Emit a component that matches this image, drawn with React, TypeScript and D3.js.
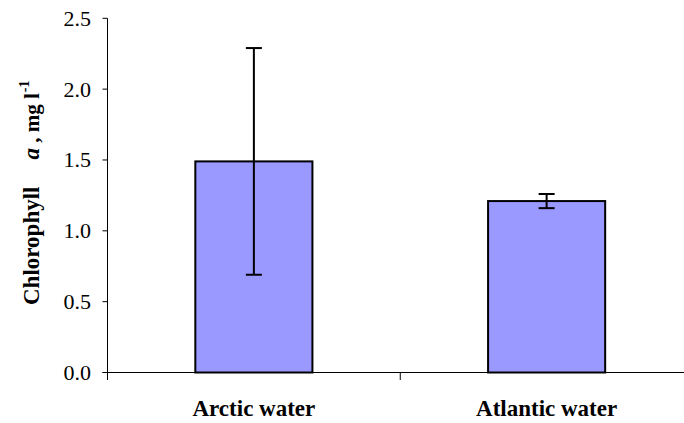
import React from "react";
import * as d3 from "d3";

// Mean chlorophyll a concentration by water mass, with error bars
const categories = ["Arctic water", "Atlantic water"];
const means = [1.49, 1.21];
const errors = [0.8, 0.05];
const yTicks = [0, 0.5, 1.0, 1.5, 2.0, 2.5];

const W = 684;
const H = 423;
const FONT = "Liberation Serif";

export default function App() {
  const axisX = 107.5;
  const y = d3.scaleLinear().domain([0, 2.5]).range([372.5, 18.3]);
  const x = d3
    .scaleBand<string>()
    .domain(categories)
    .range([axisX, 693])
    .paddingInner(0.6)
    .paddingOuter(0.3);
  const step = x.step();
  const bw = x.bandwidth();
  const cap = 8;
  const y0 = y(0);

  return (
    <svg
      width={W}
      height={H}
      style={{ position: "absolute", left: 0, top: 0, background: "#fff" }}
    >
      {/* bars */}
      {categories.map((c, i) => (
        <rect
          key={c}
          x={x(c)!}
          y={y(means[i])}
          width={bw}
          height={y0 - y(means[i])}
          fill="#9999FF"
          stroke="#000"
          strokeWidth={2}
        />
      ))}

      {/* error bars */}
      {categories.map((c, i) => {
        const cx = x(c)! + bw / 2;
        const top = y(means[i] + errors[i]);
        const bot = y(means[i] - errors[i]);
        return (
          <g key={c + "-err"} stroke="#000" strokeWidth={2}>
            <line x1={cx} x2={cx} y1={top} y2={bot} />
            <line x1={cx - cap} x2={cx + cap} y1={top} y2={top} />
            <line x1={cx - cap} x2={cx + cap} y1={bot} y2={bot} />
          </g>
        );
      })}

      {/* y axis */}
      <line x1={axisX} x2={axisX} y1={y(2.5)} y2={380} stroke="#000" strokeWidth={1} />
      {yTicks.map((t) => (
        <g key={t}>
          <line x1={axisX - 5} x2={axisX} y1={y(t)} y2={y(t)} stroke="#000" strokeWidth={1} />
          <text
            x={91}
            y={y(t) + 7.5}
            textAnchor="end"
            fontSize={22}
            fill="#000"
            style={{ fontFamily: FONT }}
          >
            {t.toFixed(1)}
          </text>
        </g>
      ))}

      {/* x axis */}
      <line x1={axisX - 5} x2={W} y1={y0} y2={y0} stroke="#000" strokeWidth={1} />
      {categories.slice(1).map((c) => (
        <line
          key={c + "-tick"}
          x1={x(c)! - (step - bw) / 2}
          x2={x(c)! - (step - bw) / 2}
          y1={y0}
          y2={380}
          stroke="#000"
          strokeWidth={1}
        />
      ))}
      {categories.map((c) => (
        <text
          key={c + "-label"}
          x={x(c)! + bw / 2}
          y={416}
          textAnchor="middle"
          fontSize={23}
          fontWeight="bold"
          fill="#000"
          style={{ fontFamily: FONT }}
        >
          {c}
        </text>
      ))}

      {/* y axis title */}
      <text
        transform="translate(39,305) rotate(-90)"
        fontSize={23}
        fontWeight="bold"
        fill="#000"
        style={{ fontFamily: FONT }}
      >
        <tspan>Chlorophyll</tspan>
        <tspan dx={27} fontStyle="italic">a</tspan>
        <tspan fontSize={21}> , mg l</tspan>
        <tspan dx={1} dy={-10} fontSize={14}>-1</tspan>
      </text>
    </svg>
  );
}
